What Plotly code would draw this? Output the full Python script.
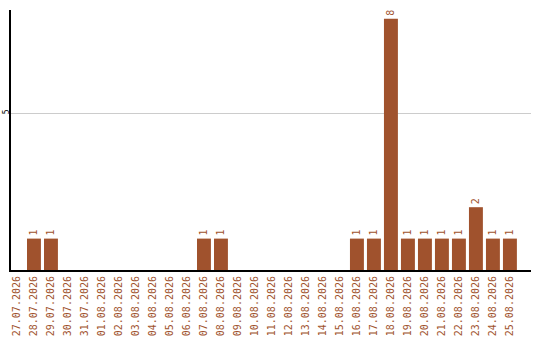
import plotly.graph_objects as go

dates = [
    "27.07.2026", "28.07.2026", "29.07.2026", "30.07.2026", "31.07.2026",
    "01.08.2026", "02.08.2026", "03.08.2026", "04.08.2026", "05.08.2026",
    "06.08.2026", "07.08.2026", "08.08.2026", "09.08.2026", "10.08.2026",
    "11.08.2026", "12.08.2026", "13.08.2026", "14.08.2026", "15.08.2026",
    "16.08.2026", "17.08.2026", "18.08.2026", "19.08.2026", "20.08.2026",
    "21.08.2026", "22.08.2026", "23.08.2026", "24.08.2026", "25.08.2026",
]
counts = [0, 1, 1, 0, 0, 0, 0, 0, 0, 0,
          0, 1, 1, 0, 0, 0, 0, 0, 0, 0,
          1, 1, 8, 1, 1, 1, 1, 2, 1, 1]

bar_color = "#A0522D"
labels = [str(v) if v > 0 else "" for v in counts]

fig = go.Figure(go.Bar(
    x=list(range(len(dates))),
    y=counts,
    marker=dict(color=bar_color, line=dict(width=0)),
    text=labels,
    textposition="outside",
    textangle=-90,
    textfont=dict(family="DejaVu Sans Mono", size=10, color=bar_color),
    cliponaxis=False,
))

fig.update_layout(
    width=540, height=340,
    margin=dict(l=11, r=9, t=10, b=70),
    paper_bgcolor="white", plot_bgcolor="white",
    bargap=0.18,
    showlegend=False,
    font=dict(family="DejaVu Sans Mono", size=10, color=bar_color),
    uniformtext=dict(minsize=10, mode="show"),
)
fig.update_xaxes(
    automargin=False,
    range=[-0.35, 30.24],
    tickmode="array",
    tickvals=list(range(len(dates))),
    ticktext=dates,
    tickangle=-90,
    tickfont=dict(family="DejaVu Sans Mono", size=10, color=bar_color),
    showgrid=False, zeroline=False,
    showline=True, linecolor="black", linewidth=2,
    ticks="", ticklen=0,
)
fig.update_yaxes(
    automargin=False,
    range=[0, 8.28],
    tickvals=[5],
    tickangle=-90,
    ticklabelstandoff=-3,
    tickfont=dict(family="DejaVu Sans Mono", size=8, color="black"),
    showgrid=True, gridcolor="#cccccc", gridwidth=1,
    zeroline=False,
    showline=True, linecolor="black", linewidth=2,
    ticks="", ticklen=0,
)

fig.write_html("out.html")
